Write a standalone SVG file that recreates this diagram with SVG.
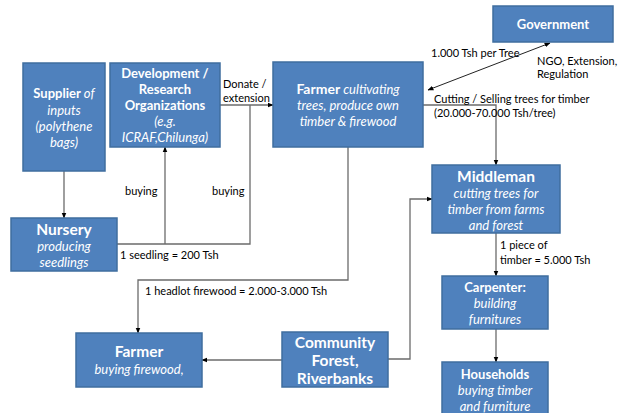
<svg xmlns="http://www.w3.org/2000/svg" width="619" height="413" viewBox="0 0 619 413">
<defs>
<style>
.box{fill:#4F81BD;stroke:#3F6E9F;stroke-width:1.5}
.t{font-family:Lato,"Open Sans",sans-serif;font-size:13px;fill:#fff;text-anchor:middle}
.b{font-weight:bold}
.i{font-style:italic}
.h{font-size:15.5px}
.lbl{font-family:Lato,"Open Sans",sans-serif;font-size:11px;fill:#000}
.c{fill:none;stroke:#6b6b6b;stroke-width:1.3}
.a{fill:none;stroke:#222;stroke-width:1}
</style>
<marker id="ah" viewBox="0 0 10 10" refX="9" refY="5" markerWidth="6" markerHeight="6" orient="auto-start-reverse" markerUnits="userSpaceOnUse">
<path d="M0,1 L10,5 L0,9 z" fill="#000"/>
</marker>
</defs>
<rect width="619" height="413" fill="#fff"/>

<g id="connectors">
<path class="c" d="M64,171 V218" marker-end="url(#ah)"/>
<path class="c" d="M117,244 H250 V105"/>
<path class="c" d="M165,244 V147" marker-end="url(#ah)"/>
<path class="c" d="M220,105 H273" marker-end="url(#ah)"/>
<path class="c" d="M348,147 V280 H138 V333" marker-end="url(#ah)"/>
<path class="c" d="M282,360 H202" marker-end="url(#ah)"/>
<path class="c" d="M388,359 H410 V199 H432" marker-end="url(#ah)"/>
<path class="c" d="M423,105 H496 V165" marker-end="url(#ah)"/>
<path class="a" d="M428,90 L550,43" marker-start="url(#ah)" marker-end="url(#ah)"/>
<path class="c" d="M496,233 V276" marker-end="url(#ah)"/>
<path class="c" d="M496,329 V362" marker-end="url(#ah)"/>
</g>

<g id="labels">
<text class="lbl" x="223" y="88">Donate /</text>
<text class="lbl" x="223" y="102">extension</text>
<text class="lbl" x="431" y="57">1.000 Tsh per Tree</text>
<text class="lbl" x="537" y="65">NGO, Extension,</text>
<text class="lbl" x="537" y="78">Regulation</text>
<text class="lbl" x="434" y="103">Cutting / Selling trees for timber</text>
<text class="lbl" x="434" y="117">(20.000-70.000 Tsh/tree)</text>
<text class="lbl" x="125" y="195">buying</text>
<text class="lbl" x="212" y="195">buying</text>
<text class="lbl" x="120" y="259">1 seedling = 200 Tsh</text>
<text class="lbl" x="145" y="295">1 headlot firewood = 2.000-3.000 Tsh</text>
<text class="lbl" x="500" y="249">1 piece of</text>
<text class="lbl" x="500" y="264">timber = 5.000 Tsh</text>
</g>

<g id="supplier">
<rect class="box" x="23" y="63" width="82" height="108"/>
<text class="t" x="64" y="98"><tspan class="b">Supplier</tspan><tspan class="i"> of</tspan></text>
<text class="t i" x="64" y="115">inputs</text>
<text class="t i" x="64" y="131">(polythene</text>
<text class="t i" x="64" y="147">bags)</text>
</g>

<g id="development">
<rect class="box" x="110" y="63" width="110" height="84"/>
<text class="t b" x="165" y="78">Development /</text>
<text class="t b" x="165" y="94">Research</text>
<text class="t b" x="165" y="110">Organizations</text>
<text class="t i" x="165" y="126">(e.g.</text>
<text class="t i" x="165" y="142">ICRAF,Chilunga)</text>
</g>

<g id="farmer">
<rect class="box" x="273" y="62" width="150" height="85"/>
<text class="t" x="348" y="94"><tspan class="b" font-size="14">Farmer</tspan><tspan class="i"> cultivating</tspan></text>
<text class="t i" x="348" y="110">trees, produce own</text>
<text class="t i" x="348" y="126">timber &amp; firewood</text>
</g>

<g id="government">
<rect class="box" x="493" y="6" width="120" height="36"/>
<text class="t b" x="553" y="29" font-size="15">Government</text>
</g>

<g id="nursery">
<rect class="box" x="11" y="218" width="106" height="53"/>
<text class="t b h" x="64" y="235">Nursery</text>
<text class="t i" x="64" y="251">producing</text>
<text class="t i" x="64" y="267">seedlings</text>
</g>

<g id="middleman">
<rect class="box" x="432" y="165" width="128" height="68"/>
<text class="t b h" x="496" y="182">Middleman</text>
<text class="t i" x="496" y="198">cutting trees for</text>
<text class="t i" x="496" y="214">timber from farms</text>
<text class="t i" x="496" y="230">and forest</text>
</g>

<g id="carpenter">
<rect class="box" x="442" y="276" width="106" height="53"/>
<text class="t b" x="495" y="292" font-size="14.5">Carpenter:</text>
<text class="t i" x="495" y="308">building</text>
<text class="t i" x="495" y="324">furnitures</text>
</g>

<g id="households">
<rect class="box" x="442" y="362" width="106" height="56"/>
<text class="t b" x="495" y="379" font-size="15">Households</text>
<text class="t i" x="495" y="395">buying timber</text>
<text class="t i" x="495" y="411">and furniture</text>
</g>

<g id="farmer-buying">
<rect class="box" x="76" y="333" width="126" height="54"/>
<text class="t b h" x="139" y="357">Farmer</text>
<text class="t i" x="139" y="374">buying firewood,</text>
</g>

<g id="community">
<rect class="box" x="282" y="332" width="106" height="55"/>
<text class="t b h" x="335" y="348">Community</text>
<text class="t b h" x="335" y="366">Forest,</text>
<text class="t b h" x="335" y="384">Riverbanks</text>
</g>
</svg>
